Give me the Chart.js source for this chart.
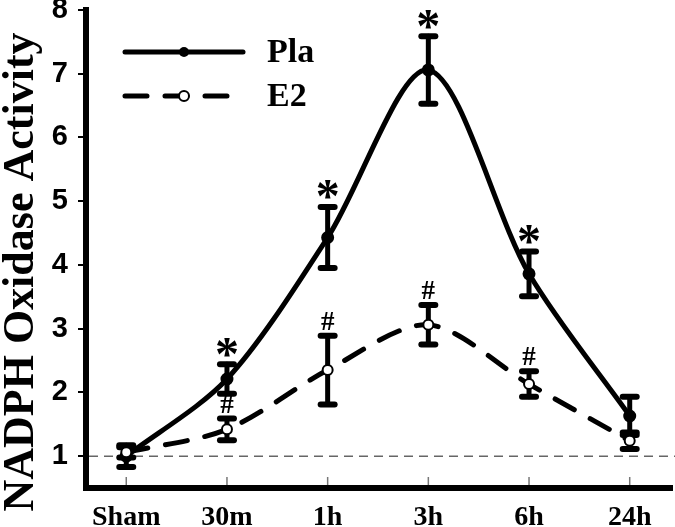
<!DOCTYPE html>
<html>
<head>
<meta charset="utf-8">
<script src="https://cdn.jsdelivr.net/npm/chart.js@4/dist/chart.umd.min.js"></script>
<style>
  html, body { margin: 0; padding: 0; background: #fff; }
  #wrap { width: 675px; height: 527px; }
</style>
</head>
<body>
<div id="wrap"><canvas id="chart" width="675" height="527"></canvas></div>
<script>
// 読み取った値 (平均 ± 誤差)
const timeLabels = ['Sham', '30m', '1h', '3h', '6h', '24h'];
const plaMean = [1.00, 2.21, 4.43, 7.06, 3.86, 1.63];
const plaErr  = [0.17, 0.23, 0.48, 0.53, 0.35, 0.30];
const e2Mean  = [1.06, 1.42, 2.35, 3.06, 2.13, 1.24];
const e2Err   = [0.08, 0.17, 0.54, 0.31, 0.20, 0.13];
const plaMarks = ['', '*', '*', '*', '*', ''];
const e2Marks  = ['', '#', '#', '#', '#', ''];
const yTicks = [1, 2, 3, 4, 5, 6, 7, 8];
const baseline = 1;

const SERIF = '"Liberation Serif", "Times New Roman", serif';
const SANS = '"Liberation Sans", Arial, sans-serif';
const E2_DASH = [22, 18];

function seg(ctx, x1, y1, x2, y2) {
  ctx.beginPath();
  ctx.moveTo(x1, y1);
  ctx.lineTo(x2, y2);
  ctx.stroke();
}

// 誤差棒と基準線
const errorBars = {
  id: 'errorBars',
  beforeDatasetsDraw(chart) {
    const { ctx, chartArea, scales: { x, y } } = chart;
    ctx.save();
    ctx.strokeStyle = '#666';
    ctx.lineWidth = 1.5;
    ctx.setLineDash([9, 6]);
    const yb = y.getPixelForValue(baseline);
    seg(ctx, chartArea.left + 3, yb, chart.width, yb);
    ctx.setLineDash([]);

    ctx.strokeStyle = '#000';
    ctx.lineCap = 'round';
    [[plaMean, plaErr], [e2Mean, e2Err]].forEach(([m, e]) => {
      m.forEach((v, i) => {
        const px = x.getPixelForValue(i);
        const top = y.getPixelForValue(v + e[i]);
        const bot = y.getPixelForValue(v - e[i]);
        ctx.lineWidth = 5;
        seg(ctx, px, top, px, bot);
        ctx.lineWidth = 6;
        seg(ctx, px - 7, top, px + 7, top);
        seg(ctx, px - 7, bot, px + 7, bot);
      });
    });
    ctx.restore();
  },
  afterDraw(chart) {
    const { ctx, chartArea, scales: { x, y } } = chart;
    ctx.save();

    // 有意差の記号
    const drawMarks = (m, e, marks, font, gap) => {
      ctx.font = font;
      ctx.textAlign = 'center';
      ctx.textBaseline = 'alphabetic';
      ctx.fillStyle = '#000';
      marks.forEach((t, i) => {
        if (!t) return;
        const px = x.getPixelForValue(i);
        const top = y.getPixelForValue(m[i] + e[i]);
        const mt = ctx.measureText(t);
        const h = mt.actualBoundingBoxAscent + mt.actualBoundingBoxDescent;
        const cy = top - gap;
        ctx.fillText(t, px, cy + h / 2 - mt.actualBoundingBoxDescent);
      });
    };
    drawMarks(plaMean, plaErr, plaMarks, 'bold 48px ' + SERIF, 17);
    drawMarks(e2Mean, e2Err, e2Marks, 'bold 27px ' + SERIF, 15);

    // x 軸の内向き目盛り
    ctx.strokeStyle = '#777';
    ctx.lineWidth = 1.5;
    timeLabels.forEach((_, i) => {
      const px = x.getPixelForValue(i);
      seg(ctx, px, chartArea.bottom - 11, px, chartArea.bottom - 3);
    });

    // y 軸タイトル
    ctx.fillStyle = '#000';
    ctx.font = 'bold 44px ' + SERIF;
    ctx.textAlign = 'center';
    ctx.textBaseline = 'alphabetic';
    ctx.translate(33, 272);
    ctx.rotate(-Math.PI / 2);
    ctx.fillText('NADPH Oxidase Activity', 0, 0);
    ctx.setTransform(1, 0, 0, 1, 0, 0);

    // 凡例
    const lx1 = chartArea.left + 39, lx2 = chartArea.left + 157, mx = chartArea.left + 98;
    const tx = chartArea.left + 181;
    ctx.strokeStyle = '#000';
    ctx.lineWidth = 5;
    ctx.lineCap = 'round';
    seg(ctx, lx1, 52, lx2, 52);
    ctx.beginPath(); ctx.arc(mx, 52, 5, 0, Math.PI * 2); ctx.fillStyle = '#000'; ctx.fill();

    ctx.setLineDash([22, 18]);
    seg(ctx, lx1, 96, lx2, 96);
    ctx.setLineDash([]);
    ctx.beginPath(); ctx.arc(mx, 96, 5, 0, Math.PI * 2);
    ctx.fillStyle = '#fff'; ctx.fill();
    ctx.lineWidth = 2; ctx.stroke();

    ctx.fillStyle = '#000';
    ctx.font = 'bold 34px ' + SERIF;
    ctx.textAlign = 'left';
    ctx.textBaseline = 'middle';
    ctx.fillText('Pla', tx, 53);
    ctx.fillText('E2', tx, 97);
    ctx.restore();
  }
};

const toPoints = arr => arr.map((v, i) => ({ x: i, y: v }));

new Chart(document.getElementById('chart'), {
  type: 'line',
  data: {
    datasets: [
      {
        label: 'E2',
        data: toPoints(e2Mean),
        order: 0,
        borderColor: '#000',
        borderWidth: 5,
        borderDash: E2_DASH,
        borderCapStyle: 'round',
        tension: 0.3,
        pointRadius: 5,
        pointBorderWidth: 2,
        pointBackgroundColor: '#fff',
        pointBorderColor: '#000'
      },
      {
        label: 'Pla',
        data: toPoints(plaMean),
        order: 1,
        borderColor: '#000',
        borderWidth: 5,
        tension: 0.3,
        pointRadius: 4,
        pointBackgroundColor: '#000',
        pointBorderColor: '#000'
      }
    ]
  },
  options: {
    responsive: false,
    animation: false,
    devicePixelRatio: 1,
    layout: { autoPadding: false, padding: { left: 0, right: 3, top: 10, bottom: 0 } },
    plugins: { legend: { display: false }, tooltip: { enabled: false } },
    scales: {
      x: {
        type: 'linear',
        min: -0.4,
        max: 5.42,
        afterBuildTicks: s => { s.ticks = timeLabels.map((_, i) => ({ value: i })); },
        afterFit: s => { s.height = 39; s.paddingLeft = 0; s.paddingRight = 0; },
        grid: { drawOnChartArea: false, drawTicks: false },
        border: { color: '#000', width: 6 },
        ticks: {
          padding: 13,
          color: '#000',
          font: { family: SERIF, size: 28, weight: 'bold' },
          callback: v => timeLabels[v] ?? ''
        }
      },
      y: {
        min: 0.5,
        max: 8,
        afterBuildTicks: s => { s.ticks = yTicks.map(v => ({ value: v })); },
        afterFit: s => { s.width = 86; s.paddingTop = 0; s.paddingBottom = 0; },
        grid: { drawOnChartArea: false, drawTicks: true, tickLength: 8, lineWidth: 2, color: '#000' },
        border: { color: '#000', width: 6 },
        ticks: {
          padding: 10,
          color: '#000',
          font: { family: SANS, size: 29, weight: 'bold' }
        }
      }
    }
  },
  plugins: [errorBars]
});
</script>
</body>
</html>
